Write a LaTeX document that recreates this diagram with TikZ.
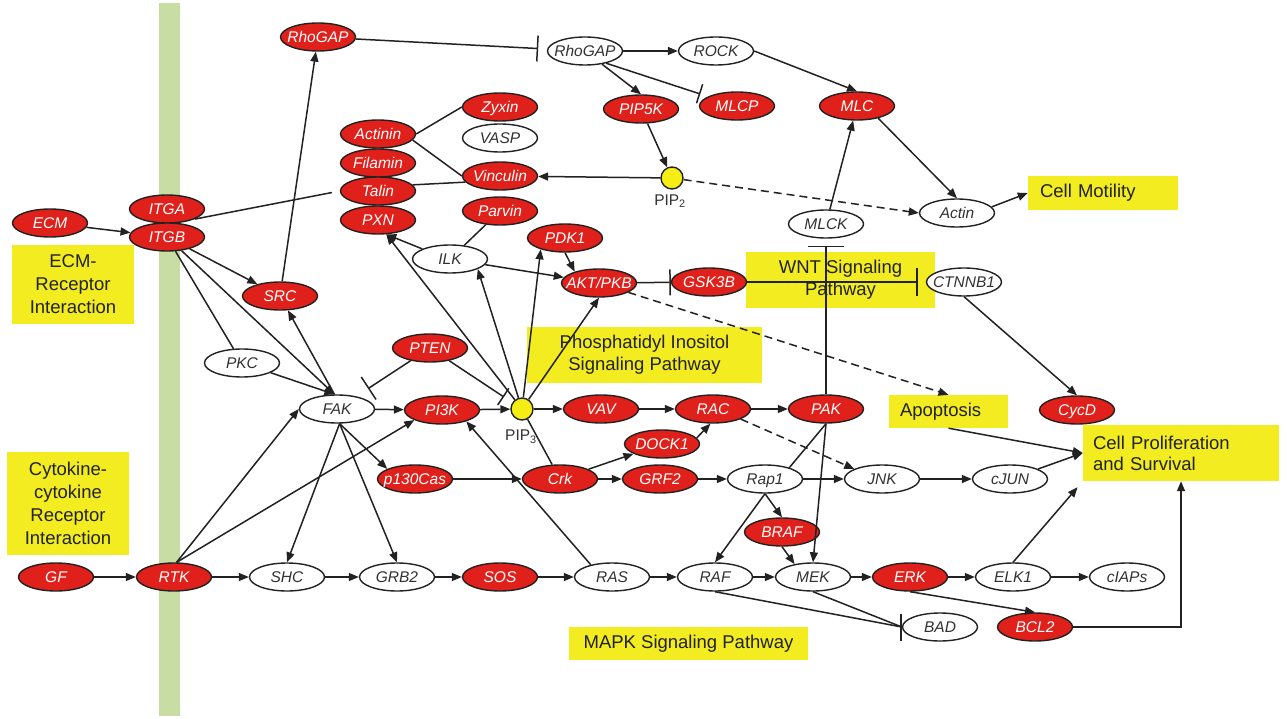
\documentclass[tikz,border=0pt]{standalone}
\usepackage{fontspec}
\setmainfont{Liberation Sans}
\usetikzlibrary{arrows.meta,shapes.geometric}
\definecolor{nred}{RGB}{224,32,26}
\definecolor{byellow}{RGB}{242,236,32}
\definecolor{cyel}{RGB}{245,238,20}
\definecolor{bgreen}{RGB}{199,221,163}
\definecolor{ink}{RGB}{34,34,34}
\definecolor{gtext}{RGB}{50,50,50}
\begin{document}
\begin{tikzpicture}[x=1pt,y=-1pt,
 gene/.style={ellipse, draw=ink, line width=1.4pt, minimum width=75pt, minimum height=28pt, inner sep=0pt,
   font=\fontsize{15.5}{18}\selectfont\itshape, text height=12pt, text depth=1pt,
   execute at begin node={\hbox to 0pt\bgroup\hss}, execute at end node={\hss\egroup}},
 rg/.style={gene, fill=nred, text=white},
 wg/.style={gene, fill=white, text=gtext},
 pip/.style={circle, draw=ink, line width=1.4pt, fill=cyel, minimum size=22pt, inner sep=0pt},
 plbl/.style={font=\fontsize{15.5}{18}\selectfont, text=gtext, inner sep=0pt},
 box/.style={fill=byellow, inner ysep=0pt, font=\fontsize{18.5}{23}\selectfont, text=ink},
 ln/.style={draw=ink, line width=1.5pt},
 act/.style={ln, -{Triangle[length=10pt,width=8pt]}},
 dsh/.style={act, dash pattern=on 8pt off 5pt},
 inh/.style={ln, -{Bar[width=#1,line width=1.5pt]}},
 inh/.default=26pt]

\fill[white] (0,0) rectangle (1287,719);
\useasboundingbox (0,0) rectangle (1287,719);

% membrane bar
\fill[bgreen] (159,3) rectangle (180,716);

% yellow labels
\node[box, minimum width=122pt, minimum height=79pt, align=center] (ecmbox) at (73,284.5) {ECM-\\Receptor\\Interaction};
\node[box, minimum width=122pt, minimum height=103pt, align=center] (cytbox) at (68,503.5) {Cytokine-\\cytokine\\Receptor\\Interaction};
\node[box, text width=126pt, inner xsep=12pt, minimum height=34pt, align=left] (motbox) at (1103,193) {Cell Motility};
\node[box, minimum width=189pt, minimum height=56pt, align=center, font=\fontsize{18.5}{22}\selectfont] (wntbox) at (840.5,280) {WNT Signaling\\Pathway};
\node[box, minimum width=235pt, minimum height=56pt, align=center, font=\fontsize{18.5}{22}\selectfont] (pibox) at (644.5,355) {Phosphatidyl Inositol\\Signaling Pathway};
\node[box, text width=97pt, inner xsep=11pt, minimum height=33pt, align=left] (apobox) at (948.5,411.5) {Apoptosis};
\node[box, text width=176pt, inner xsep=10pt, minimum height=56pt, align=left, font=\fontsize{18.5}{21}\selectfont] (prolbox) at (1181,453) {Cell Proliferation\\and Survival};
\node[box, minimum width=239pt, minimum height=33pt, align=center] (mapkbox) at (688.5,643.5) {MAPK Signaling Pathway};

% red genes
\node[rg] (RhoGAPr) at (318,37) {RhoGAP};
\node[rg] (Actinin) at (378,134) {Actinin};
\node[rg] (Filamin) at (378,163) {Filamin};
\node[rg] (Talin) at (378,191) {Talin};
\node[rg] (PXN) at (378,220) {PXN};
\node[rg] (Zyxin) at (500,107) {Zyxin};
\node[rg] (Vinculin) at (500,176) {Vinculin};
\node[rg] (Parvin) at (500,211) {Parvin};
\node[rg] (PIP5K) at (641,109) {PIP5K};
\node[rg] (MLCP) at (737,106) {MLCP};
\node[rg] (MLC) at (857,106) {MLC};
\node[rg] (ECM) at (50,223) {ECM};
\node[rg] (ITGA) at (167,209) {ITGA};
\node[rg] (ITGB) at (167,237) {ITGB};
\node[rg] (SRC) at (280,296) {SRC};
\node[rg] (PDK1) at (565,238) {PDK1};
\node[rg] (AKT) at (599,283) {AKT/PKB};
\node[rg] (GSK3B) at (709,282) {GSK3B};
\node[rg] (PTEN) at (430,348) {PTEN};
\node[rg] (PI3K) at (442,410) {PI3K};
\node[rg] (VAV) at (601,409) {VAV};
\node[rg] (RAC) at (713,409) {RAC};
\node[rg] (PAK) at (826,409) {PAK};
\node[rg] (CycD) at (1077,410) {CycD};
\node[rg] (DOCK1) at (662,444) {DOCK1};
\node[rg] (p130Cas) at (415,479) {p130Cas};
\node[rg] (Crk) at (560,479) {Crk};
\node[rg] (GRF2) at (660,479) {GRF2};
\node[rg] (BRAF) at (782,532) {BRAF};
\node[rg] (GF) at (56,577) {GF};
\node[rg] (RTK) at (174,577) {RTK};
\node[rg] (SOS) at (500,577) {SOS};
\node[rg] (ERK) at (910,577) {ERK};
\node[rg] (BCL2) at (1035,627) {BCL2};

% white genes
\node[wg] (RhoGAPw) at (585,51) {RhoGAP};
\node[wg] (ROCK) at (716,51) {ROCK};
\node[wg] (VASP) at (500,138) {VASP};
\node[wg] (Actin) at (957,213) {Actin};
\node[wg] (MLCK) at (826,224) {MLCK};
\node[wg] (ILK) at (450,259) {ILK};
\node[wg] (CTNNB1) at (964,282) {CTNNB1};
\node[wg] (PKC) at (242,363) {PKC};
\node[wg] (FAK) at (337,409) {FAK};
\node[wg] (Rap1) at (765,479) {Rap1};
\node[wg] (JNK) at (882,479) {JNK};
\node[wg] (cJUN) at (1010,479) {cJUN};
\node[wg] (SHC) at (287,577) {SHC};
\node[wg] (GRB2) at (397,577) {GRB2};
\node[wg] (RAS) at (612,577) {RAS};
\node[wg] (RAF) at (715,577) {RAF};
\node[wg] (MEK) at (813,577) {MEK};
\node[wg] (ELK1) at (1013,577) {ELK1};
\node[wg] (cIAPs) at (1127,577) {cIAPs};
\node[wg] (BAD) at (940,627) {BAD};

% lipids
\node[pip] (PIP2) at (672,178) {};
\node[plbl] (pip2lbl) at (670,201) {PIP\textsubscript{2}};
\node[pip] (PIP3) at (522,409) {};
\node[plbl] (pip3lbl) at (521,437) {PIP\textsubscript{3}};

% ---- connectors ----
\draw[inh, shorten >=9pt] (RhoGAPr) -- (RhoGAPw);
\draw[act] (RhoGAPw) -- (ROCK);
\draw[act] (RhoGAPw) -- (PIP5K.north);
\draw[inh=20pt, shorten >=8pt] (RhoGAPw.-30) -- (MLCP);
\draw[act] (ROCK.east) -- (MLC.north);
\draw[act] (PIP5K) -- (PIP2);
\draw[act] (PIP2) -- (Vinculin);
\draw[dsh] (PIP2) -- (Actin.west);
\draw[act] (MLC.-30) -- (Actin.north);
\draw[act] (MLCK) -- (MLC);
\draw[act] (Actin.10) -- (motbox.west);
\draw[inh=36pt, shorten >=7pt] (PAK.north) -- (MLCK.south);
\draw[inh] (AKT) -- (GSK3B);
\draw[inh=28pt, shorten >=8pt] (GSK3B) -- (CTNNB1);
\draw[dsh] (AKT) -- (apobox.north);
\draw[act] (CTNNB1.south) -- (CycD.north);
\draw[act] (apobox.south) -- (prolbox.west);
\draw[act] (cJUN) -- (prolbox.west);
\draw[act, shorten >=8pt] (ELK1.north) -- (prolbox.south west);
\draw[act] (BCL2.east) -| (prolbox.south);
\draw[act] (ERK.south) -- (BCL2.north);
\draw[ln] (RAF.south) -- (BAD.west);
\draw[ln] (MEK.south) -- (BAD.west);
\draw[ln] (BAD.west) ++(-1,-13.5) -- ++(0,27);

\draw[act] (GF) -- (RTK);
\draw[act] (RTK) -- (SHC);
\draw[act] (SHC) -- (GRB2);
\draw[act] (GRB2) -- (SOS);
\draw[act] (SOS) -- (RAS);
\draw[act] (RAS) -- (RAF);
\draw[act] (RAF) -- (MEK);
\draw[act] (MEK) -- (ERK);
\draw[act] (ERK) -- (ELK1);
\draw[act] (ELK1) -- (cIAPs);
\draw[act] (p130Cas) -- (Crk);
\draw[act] (Crk) -- (GRF2);
\draw[act] (GRF2) -- (Rap1);
\draw[act] (Rap1) -- (JNK);
\draw[act] (JNK) -- (cJUN);
\draw[act] (FAK) -- (PI3K);
\draw[act] (PI3K) -- (PIP3);
\draw[act] (PIP3) -- (VAV);
\draw[act] (VAV) -- (RAC);
\draw[act] (RAC) -- (PAK);

\draw[act] (RAS.150) -- (PI3K.-25);
\draw[ln] (PIP3) -- (Crk);
\draw[act] (Crk) -- (DOCK1);
\draw[act] (DOCK1.10) -- (RAC.-100);
\draw[dsh] (RAC.-20) -- (JNK.160);
\draw[ln] (Rap1.25) -- (PAK.south);
\draw[act] (PAK.south) -- (MEK.north);
\draw[act] (Rap1.south) -- (BRAF.north);
\draw[act] (Rap1.south) -- (RAF.north);
\draw[act] (BRAF.south) -- (MEK.145);

\draw[act] (ITGB) -- (FAK.100);
\draw[act] (PKC) -- (FAK.100);
\draw[act] (FAK.100) -- (SRC);
\draw[act] (ITGB) -- (SRC);
\draw[ln] (ITGB) -- (PKC);
\draw[act] (SRC) -- (RhoGAPr);
\draw[act] (ECM) -- (ITGB);
\draw[ln, shorten >=8pt] (ITGA.-20) -- (Talin.west);
\draw[ln] (Actinin.east) -- (Zyxin.west);
\draw[ln] (Actinin.-10) -- (Vinculin.west);
\draw[ln] (Talin.10) -- (Vinculin.190);
\draw[ln] (Parvin) -- (ILK);
\draw[act] (ILK.160) -- (PXN.-60);
\draw[act] (PIP3) -- (PXN.-60);
\draw[act] (PIP3) -- (ILK.-20);
\draw[act] (PIP3) -- (PDK1.-155);
\draw[act] (PIP3) -- (AKT.south);
\draw[act] (ILK) -- (AKT);
\draw[act] (PDK1.south) -- (AKT.155);
\draw[inh=27pt, shorten >=14pt] (PTEN) -- (FAK);
\draw[inh=20pt, shorten >=10pt] (PTEN) -- (PIP3);
\draw[act] (RTK.80) -- (FAK.west);
\draw[act] (RTK.80) -- (PI3K.-160);
\draw[act] (FAK.-80) -- (p130Cas.160);
\draw[act] (FAK.-80) -- (SHC.north);
\draw[act] (FAK.-80) -- (GRB2.north);
\end{tikzpicture}
\end{document}
